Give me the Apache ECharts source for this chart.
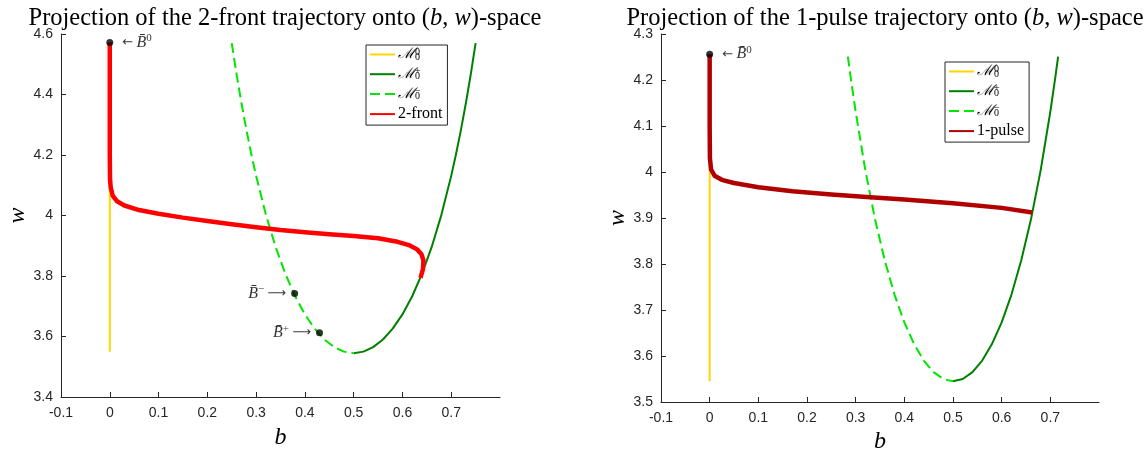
<!DOCTYPE html>
<html>
<head>
<meta charset="utf-8">
<script src="https://cdn.jsdelivr.net/npm/echarts@6/dist/echarts.min.js"></script>
<style>
  html, body { margin: 0; padding: 0; background: #fff; }
  #chart { width: 1148px; height: 454px; }
</style>
</head>
<body>
<div id="chart"></div>
<script>
// ---- data: (b, w) pairs ----
// 2-front panel
const frontSlowZero = [[0, 3.55], [0, 4.57]];
const frontPlusBranch = [
  [0.50, 3.545], [0.52, 3.550], [0.54, 3.565], [0.56, 3.590], [0.58, 3.626],
  [0.60, 3.673], [0.62, 3.733], [0.64, 3.807], [0.66, 3.896], [0.68, 4.003],
  [0.70, 4.131], [0.71, 4.204], [0.72, 4.284], [0.73, 4.371], [0.74, 4.466], [0.75, 4.570]
];
const frontMinusBranch = [
  [0.25, 4.570], [0.26, 4.466], [0.27, 4.371], [0.28, 4.284], [0.29, 4.204],
  [0.30, 4.131], [0.32, 4.003], [0.34, 3.896], [0.36, 3.807], [0.38, 3.733],
  [0.40, 3.673], [0.42, 3.626], [0.44, 3.590], [0.46, 3.565], [0.48, 3.550], [0.50, 3.545]
];
const frontTrajectory = [
  [0, 4.572], [0, 4.40], [0, 4.20], [0.0005, 4.12], [0.002, 4.092], [0.006, 4.066],
  [0.015, 4.047], [0.03, 4.033], [0.06, 4.018], [0.10, 4.006], [0.15, 3.993],
  [0.20, 3.982], [0.25, 3.971], [0.30, 3.961], [0.35, 3.952], [0.40, 3.945],
  [0.45, 3.938], [0.50, 3.932], [0.55, 3.925], [0.59, 3.913], [0.615, 3.901],
  [0.630, 3.888], [0.639, 3.872], [0.643, 3.852], [0.642, 3.822], [0.637, 3.794]
];
const frontPoints = [
  { name: 'B0', value: [0, 4.572] },
  { name: 'B-', value: [0.379, 3.742] },
  { name: 'B+', value: [0.430, 3.612] }
];

// 1-pulse panel
const pulseSlowZero = [[0, 3.545], [0, 4.25]];
const pulsePlusBranch = [
  [0.50, 3.545], [0.52, 3.550], [0.54, 3.565], [0.56, 3.590], [0.58, 3.626],
  [0.60, 3.673], [0.62, 3.733], [0.64, 3.807], [0.66, 3.896], [0.68, 4.003],
  [0.70, 4.131], [0.71, 4.204], [0.716, 4.251]
];
const pulseMinusBranch = [
  [0.284, 4.251], [0.29, 4.204], [0.30, 4.131], [0.32, 4.003], [0.34, 3.896],
  [0.36, 3.807], [0.38, 3.733], [0.40, 3.673], [0.42, 3.626], [0.44, 3.590],
  [0.46, 3.565], [0.48, 3.550], [0.50, 3.545]
];
const pulseTrajectory = [
  [0, 4.256], [0, 4.10], [0.0005, 4.03], [0.003, 4.005], [0.01, 3.992],
  [0.025, 3.983], [0.05, 3.976], [0.10, 3.967], [0.17, 3.958], [0.25, 3.951],
  [0.33, 3.945], [0.40, 3.940], [0.50, 3.932], [0.60, 3.922], [0.663, 3.912]
];
const pulsePoints = [{ name: 'B0', value: [0, 4.256] }];

// tick labels
const bTicks = [-0.1, 0, 0.1, 0.2, 0.3, 0.4, 0.5, 0.6, 0.7];
const wTicksFront = { min: 3.4, max: 4.6, step: 0.2 };
const wTicksPulse = { min: 3.5, max: 4.3, step: 0.1 };

// ---- styling helpers ----
const INK = '#262626';
const SERIF = '"Liberation Serif", "DejaVu Serif", serif';
const SANS = '"Liberation Sans", Arial, sans-serif';
const YELLOW = '#FFD500';
const DKGREEN = '#008000';
const LTGREEN = '#00E600';

const mathRich = {
  n: { fontFamily: SERIF, fontSize: 24.5, fontWeight: 'normal', color: '#000' },
  i: { fontFamily: SERIF, fontSize: 24.5, fontWeight: 'normal', fontStyle: 'italic', color: '#000' }
};

function xAxisFor(gridIndex, gap) {
  return {
    type: 'value', gridIndex, min: -0.1, max: 0.8,
    name: 'b', nameLocation: 'middle', nameGap: gap,
    nameTextStyle: { fontFamily: SERIF, fontStyle: 'italic', fontSize: 24, color: '#000' },
    axisLine: { show: true, onZero: false, lineStyle: { color: INK, width: 1 } },
    axisTick: { show: true, inside: true, length: 5, customValues: bTicks, lineStyle: { color: INK } },
    axisLabel: { customValues: bTicks, margin: 9, fontFamily: SANS, fontSize: 14, color: INK },
    splitLine: { show: false }
  };
}
function yAxisFor(gridIndex, t, gap) {
  return {
    type: 'value', gridIndex, min: t.min, max: t.max, interval: t.step,
    name: 'w', nameLocation: 'middle', nameGap: gap, nameRotate: 90,
    nameTextStyle: { fontFamily: SERIF, fontStyle: 'italic', fontSize: 24, color: '#000' },
    axisLine: { show: true, onZero: false, lineStyle: { color: INK, width: 1 } },
    axisTick: { show: true, inside: true, length: 5, lineStyle: { color: INK } },
    axisLabel: { margin: 8, fontFamily: SANS, fontSize: 14, color: INK },
    splitLine: { show: false }
  };
}
function lineSeries(name, data, idx, color, width, dashed, z) {
  return {
    type: 'line', name, data, xAxisIndex: idx, yAxisIndex: idx,
    symbol: 'none', smooth: false, z: z, silent: true,
    lineStyle: { color, width, type: dashed ? [10, 5] : 'solid', cap: 'butt', join: 'round' },
    itemStyle: { color }
  };
}

const pointLabelRich = {
  a: { fontFamily: '"DejaVu Sans", sans-serif', fontSize: 13, color: '#000' },
  t: { fontFamily: SERIF, fontStyle: 'italic', fontSize: 16, color: '#000' },
  s: { fontFamily: SERIF, fontSize: 11, color: '#000', verticalAlign: 'top', padding: [0, 0, 8, 0] }
};
function pointLabel(p) {
  if (p.name === 'B0') return { show: true, position: 'right', distance: 9, formatter: '{a|←} {t|B̄}{s|0}', rich: pointLabelRich };
  if (p.name === 'B-') return { show: true, position: 'left', distance: 5, formatter: '{t|B̄}{s|−} {a|⟶}', rich: pointLabelRich };
  return { show: true, position: 'left', distance: 5, formatter: '{t|B̄}{s|+} {a|⟶}', rich: pointLabelRich };
}
function pointSeries(points, idx) {
  return {
    type: 'scatter', xAxisIndex: idx, yAxisIndex: idx, symbolSize: 7, z: 10, silent: true,
    itemStyle: { color: '#000' },
    data: points.map(p => ({ name: p.name, value: p.value, label: pointLabel(p) }))
  };
}

// legend labels: calligraphic M with stacked super/subscripts
const legendRich = {
  m: { fontFamily: '"DejaVu Serif", serif', fontStyle: 'italic', fontSize: 15, color: '#000' },
  u: { fontFamily: SERIF, fontSize: 10, color: '#000', verticalAlign: 'top', width: 0 },
  d: { fontFamily: SERIF, fontSize: 10, color: '#000', verticalAlign: 'bottom' },
  r: { fontFamily: SERIF, fontSize: 16, color: '#000' }
};
function legendText(name) {
  if (name === 'M00') return '{m|ℳ}{u|0}{d|0}';
  if (name === 'M0+') return '{m|ℳ}{u|+}{d|0}';
  if (name === 'M0-') return '{m|ℳ}{u|−}{d|0}';
  return '{r|' + name + '}';
}
function legendFor(names, left, top) {
  return {
    data: names, left, top, orient: 'vertical',
    itemWidth: 25, itemHeight: 14, itemGap: 4.7, padding: [2, 5, 3, 3],
    borderColor: INK, borderWidth: 1, backgroundColor: '#fff',
    selectedMode: false,
    itemStyle: { opacity: 0 },
    formatter: legendText,
    textStyle: { rich: legendRich, padding: [0, 0, 0, -2] }
  };
}

const chart = echarts.init(document.getElementById('chart'), null, { renderer: 'canvas' });
chart.setOption({
  animation: false,
  backgroundColor: '#fff',
  title: [
    { left: 280, top: 1, textAlign: 'center',
      text: '{n|Projection of the 2-front trajectory onto (}{i|b}{n|, }{i|w}{n|)-space}',
      textStyle: { rich: mathRich, fontWeight: 'normal' } },
    { left: 880, top: 1, textAlign: 'center',
      text: '{n|Projection of the 1-pulse trajectory onto (}{i|b}{n|, }{i|w}{n|)-space}',
      textStyle: { rich: mathRich, fontWeight: 'normal' } }
  ],
  grid: [
    { left: 61, right: 648, top: 34, bottom: 57, outerBoundsMode: 'none' },
    { left: 661, right: 49, top: 34, bottom: 52, outerBoundsMode: 'none' }
  ],
  xAxis: [xAxisFor(0, 29), xAxisFor(1, 26)],
  yAxis: [yAxisFor(0, wTicksFront, 31), yAxisFor(1, wTicksPulse, 29)],
  legend: [
    legendFor(['M00', 'M0+', 'M0-', '2-front'], 366, 45),
    legendFor(['M00', 'M0+', 'M0-', '1-pulse'], 945, 62)
  ],
  series: [
    lineSeries('M00', frontSlowZero, 0, YELLOW, 2, false, 2),
    lineSeries('M0+', frontPlusBranch, 0, DKGREEN, 2, false, 2),
    lineSeries('M0-', frontMinusBranch, 0, LTGREEN, 2, true, 2),
    lineSeries('2-front', frontTrajectory, 0, '#FF0000', 4.5, false, 3),
    pointSeries(frontPoints, 0),
    lineSeries('M00', pulseSlowZero, 1, YELLOW, 2, false, 2),
    lineSeries('M0+', pulsePlusBranch, 1, DKGREEN, 2, false, 2),
    lineSeries('M0-', pulseMinusBranch, 1, LTGREEN, 2, true, 2),
    lineSeries('1-pulse', pulseTrajectory, 1, '#B00000', 4.5, false, 3),
    pointSeries(pulsePoints, 1)
  ]
});
</script>
</body>
</html>
